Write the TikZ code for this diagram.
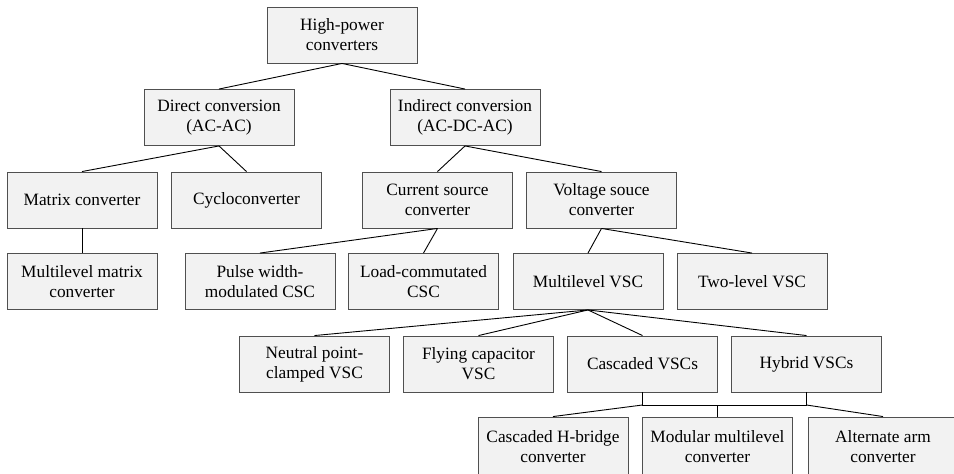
\documentclass[tikz,border=0pt]{standalone}
\usepackage{fontspec}
\setmainfont{Liberation Serif}
\usepackage{tikz}
\usetikzlibrary{positioning}
\definecolor{boxfill}{HTML}{F2F2F2}
\definecolor{boxline}{HTML}{505050}

\begin{document}
\begin{tikzpicture}[
  x=1pt,
  y=-1pt,
  conv/.style={
    draw=boxline,
    fill=boxfill,
    line width=0.9pt,
    align=center,
    inner sep=2pt,
    font=\fontsize{17.3}{20}\selectfont,
    minimum width=150pt,
    minimum height=56pt
  },
  cutconv/.style={conv, minimum height=60pt},
  link/.style={line width=0.9pt}
]
  \useasboundingbox (0,0) rectangle (954,474);
  \clip (0,0) rectangle (954,474);

  \node[conv] (hpc) at (342,35) {High-power\\ converters};

  \node[conv] (direct) at (219,117.5) {Direct conversion\\ (AC-AC)};
  \node[conv] (indirect) at (465,117.5) {Indirect conversion\\ (AC-DC-AC)};

  \node[conv] (matrix) at (82,200) {Matrix converter};
  \node[conv] (cyclo) at (246.5,200) {Cycloconverter};
  \node[conv] (csc) at (437.5,200) {Current source\\ converter};
  \node[conv] (vsc) at (601.5,200) {Voltage souce\\ converter};

  \node[conv] (mlmatrix) at (82,281.5) {Multilevel matrix\\ converter};
  \node[conv] (pwm) at (260,281.5) {Pulse width-\\ modulated CSC};
  \node[conv] (lcc) at (423.5,281.5) {Load-commutated\\ CSC};
  \node[conv] (mlvsc) at (588,281.5) {Multilevel VSC};
  \node[conv] (twolevel) at (752,281.5) {Two-level VSC};

  \node[conv] (npc) at (314.5,364) {Neutral point-\\ clamped VSC};
  \node[conv] (flying) at (478.5,364) {Flying capacitor\\ VSC};
  \node[conv] (cascaded) at (642.5,364) {Cascaded VSCs};
  \node[conv] (hybrid) at (806.5,364) {Hybrid VSCs};

  \node[cutconv] (chb) at (553,447) {Cascaded H-bridge\\ converter};
  \node[cutconv] (mmc) at (717.5,447) {Modular multilevel\\ converter};
  \node[cutconv] (aac) at (883,447) {Alternate arm\\ converter};

  \coordinate (barl) at (642.5,405);
  \coordinate (barr) at (806.5,405);

  \draw[link] (hpc.south) -- (direct.north);
  \draw[link] (hpc.south) -- (indirect.north);

  \draw[link] (direct.south) -- (matrix.north);
  \draw[link] (direct.south) -- (cyclo.north);
  \draw[link] (indirect.south) -- (csc.north);
  \draw[link] (indirect.south) -- (vsc.north);

  \draw[link] (matrix.south) -- (mlmatrix.north);
  \draw[link] (csc.south) -- (pwm.north);
  \draw[link] (csc.south) -- (lcc.north);
  \draw[link] (vsc.south) -- (mlvsc.north);
  \draw[link] (vsc.south) -- (twolevel.north);

  \draw[link] (mlvsc.south) -- (npc.north);
  \draw[link] (mlvsc.south) -- (flying.north);
  \draw[link] (mlvsc.south) -- (cascaded.north);
  \draw[link] (mlvsc.south) -- (hybrid.north);

  \draw[link] (cascaded.south) -- (barl) -- (barr) -- (hybrid.south);
  \draw[link] (barl) -- (chb.north);
  \draw[link] (mmc.north |- barl) -- (mmc.north);
  \draw[link] (barr) -- (aac.north);
\end{tikzpicture}
\end{document}
